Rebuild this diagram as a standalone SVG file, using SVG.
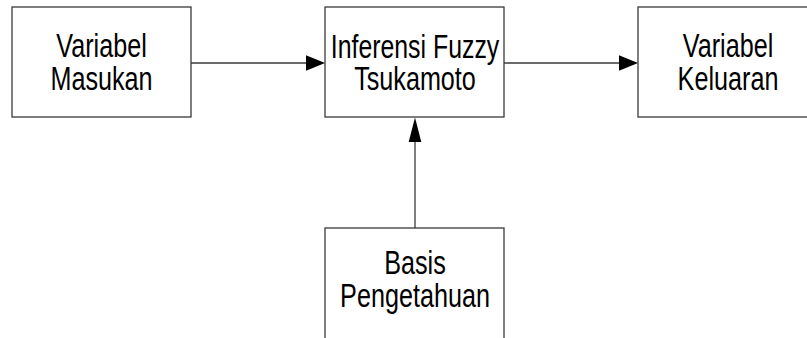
<svg xmlns="http://www.w3.org/2000/svg" width="807" height="338" viewBox="0 0 807 338">
  <style>
    .box { fill: #ffffff; stroke: #3a3a3a; stroke-width: 1.3; }
    .lbl { font-family: "Liberation Sans", Arial, sans-serif; font-size: 32.5px; fill: #000000; text-anchor: middle; }
    .wire { stroke: #3a3a3a; stroke-width: 1.3; fill: none; }
    .head { fill: #000000; stroke: none; }
  </style>
  <rect width="807" height="338" fill="#ffffff"/>

  <g id="variabel-masukan">
    <rect class="box" x="12" y="7" width="179" height="110"/>
    <text class="lbl" transform="translate(101.5,57) scale(0.775,1)">Variabel</text>
    <text class="lbl" transform="translate(101.5,89.5) scale(0.775,1)">Masukan</text>
  </g>

  <g id="inferensi-fuzzy">
    <rect class="box" x="325" y="7" width="179" height="110"/>
    <text class="lbl" transform="translate(415,57.5) scale(0.765,1)">Inferensi Fuzzy</text>
    <text class="lbl" transform="translate(415,89.5) scale(0.775,1)">Tsukamoto</text>
  </g>

  <g id="variabel-keluaran">
    <rect class="box" x="638" y="7" width="179" height="110"/>
    <text class="lbl" transform="translate(728,57) scale(0.775,1)">Variabel</text>
    <text class="lbl" transform="translate(728,89.5) scale(0.775,1)">Keluaran</text>
  </g>

  <g id="basis-pengetahuan">
    <rect class="box" x="325" y="228" width="179" height="120"/>
    <text class="lbl" transform="translate(415,274) scale(0.775,1)">Basis</text>
    <text class="lbl" transform="translate(415,306.5) scale(0.775,1)">Pengetahuan</text>
  </g>

  <g id="connectors">
    <line class="wire" x1="191" y1="63" x2="307" y2="63"/>
    <polygon class="head" points="306,55.2 325,63 306,70.8"/>
    <line class="wire" x1="504" y1="63" x2="620" y2="63"/>
    <polygon class="head" points="619,55.2 638,63 619,70.8"/>
    <line class="wire" x1="415" y1="228" x2="415" y2="140"/>
    <polygon class="head" points="408.7,142 415,117.5 421.3,142"/>
  </g>
</svg>
